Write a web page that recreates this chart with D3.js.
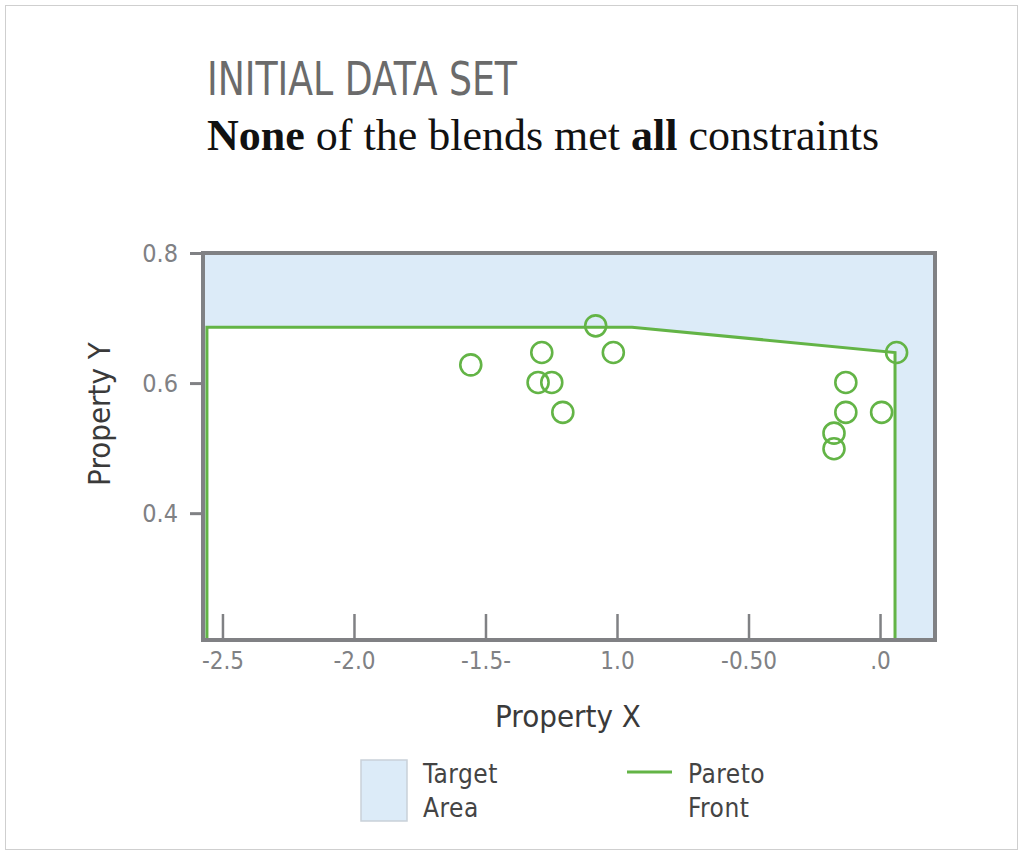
<!DOCTYPE html>
<html>
<head>
<meta charset="utf-8">
<script src="https://cdn.jsdelivr.net/npm/d3@7"></script>
<style>
  html, body { margin: 0; padding: 0; background: #fff; }
</style>
</head>
<body>
<svg id="chart"></svg>
<script>
const WIDTH = 1024;
const HEIGHT = 856;

// data
const pointsX = [-1.556, -1.286, -1.300, -1.248, -1.206, -1.081, -1.014, -0.130, -0.130, 0.006, -0.175, -0.175, 0.063];
const pointsY = [0.628, 0.647, 0.601, 0.601, 0.555, 0.688, 0.647, 0.601, 0.555, 0.555, 0.523, 0.499, 0.647];
const paretoX = [-2.559, -2.559, -0.943, 0.057, 0.057];
const paretoY = [0.205, 0.686, 0.686, 0.647, 0.205];
const xTicks = [-2.5, -2.0, -1.5, -1.0, -0.5, 0];
const xTickLabels = ["-2.5", "-2.0", "-1.5-", "1.0", "-0.50", ".0"];
const yTicks = [0.8, 0.6, 0.4];
const yTickLabels = ["0.8", "0.6", "0.4"];

const X_DOMAIN = [-2.574, 0.209];
const Y_DOMAIN = [0.205, 0.8];

const PLOT = { left: 203, right: 935, top: 253, bottom: 640 };

const GREEN = "#63b446";
const BLUE = "#dcebf8";
const GREY = "#808184";
const SANS = "'DejaVu Sans Condensed', 'DejaVu Sans', sans-serif";

const svg = d3.select("#chart").attr("width", WIDTH).attr("height", HEIGHT);

// outer frame
svg.append("rect")
  .attr("x", 5.5).attr("y", 5.5)
  .attr("width", 1012).attr("height", 844)
  .attr("fill", "#fff")
  .attr("stroke", "#cfcfcf");

// titles
svg.append("text")
  .attr("x", 207).attr("y", 95)
  .style("font-family", SANS)
  .style("font-size", "46px")
  .attr("textLength", 310)
  .attr("lengthAdjust", "spacingAndGlyphs")
  .attr("fill", "#6b6b6b")
  .text("INITIAL DATA SET");

const sub = svg.append("text")
  .attr("x", 207).attr("y", 150)
  .style("font-family", "'Liberation Serif', 'DejaVu Serif', serif")
  .style("font-size", "44px")
  .attr("fill", "#111");
sub.append("tspan").style("font-weight", "bold").text("None");
sub.append("tspan").text(" of the blends met ");
sub.append("tspan").style("font-weight", "bold").text("all");
sub.append("tspan").text(" constraints");

const x = d3.scaleLinear().domain(X_DOMAIN).range([PLOT.left, PLOT.right]);
const y = d3.scaleLinear().domain(Y_DOMAIN).range([PLOT.bottom, PLOT.top]);

// target area: blue over the plot, white below the pareto front
svg.append("rect")
  .attr("x", x(X_DOMAIN[0])).attr("y", y(Y_DOMAIN[1]))
  .attr("width", x(X_DOMAIN[1]) - x(X_DOMAIN[0]))
  .attr("height", y(Y_DOMAIN[0]) - y(Y_DOMAIN[1]))
  .attr("fill", BLUE);

const paretoData = paretoX.map((d, i) => ({ x: d, y: paretoY[i] }));
const lineF = d3.line().x((p) => x(p.x)).y((p) => y(p.y));

svg.append("path")
  .datum(paretoData)
  .attr("d", lineF)
  .attr("fill", "#fff");

svg.append("path")
  .datum(paretoData)
  .attr("d", lineF)
  .attr("fill", "none")
  .attr("stroke", GREEN)
  .attr("stroke-width", 3);

// points
const pts = pointsX.map((d, i) => ({ x: d, y: pointsY[i] }));
svg.append("g")
  .selectAll("circle")
  .data(pts)
  .join("circle")
  .attr("cx", (p) => x(p.x))
  .attr("cy", (p) => y(p.y))
  .attr("r", 10.5)
  .attr("fill", "none")
  .attr("stroke", GREEN)
  .attr("stroke-width", 2.6);

// frame: top and right
svg.append("path")
  .attr("d", `M${PLOT.left},${PLOT.top}H${PLOT.right}V${PLOT.bottom}`)
  .attr("fill", "none")
  .attr("stroke", GREY)
  .attr("stroke-width", 4);

// axes
const axisX = d3.axisBottom(x)
  .tickValues(xTicks)
  .tickFormat((d, i) => xTickLabels[i])
  .tickSize(-26)
  .tickPadding(12);

const gx = svg.append("g")
  .attr("transform", `translate(0, ${PLOT.bottom})`)
  .call(axisX);
gx.select(".domain")
  .attr("d", `M${PLOT.left - 2},0H${PLOT.right + 2}`)
  .attr("stroke", GREY).attr("stroke-width", 4);
gx.selectAll(".tick line").attr("stroke", GREY).attr("stroke-width", 2.5);
gx.selectAll(".tick text")
  .attr("fill", GREY)
  .style("font-family", SANS)
  .style("font-size", "24px");

const axisY = d3.axisLeft(y)
  .tickValues(yTicks)
  .tickFormat((d, i) => yTickLabels[i])
  .tickSize(13)
  .tickPadding(12);

const gy = svg.append("g")
  .attr("transform", `translate(${PLOT.left}, 0)`)
  .call(axisY);
gy.select(".domain")
  .attr("d", `M0,${PLOT.top - 2}V${PLOT.bottom + 2}`)
  .attr("stroke", GREY).attr("stroke-width", 4);
gy.selectAll(".tick line").attr("stroke", GREY).attr("stroke-width", 3);
gy.selectAll(".tick text")
  .attr("fill", GREY)
  .style("font-family", SANS)
  .style("font-size", "25px");

// axis titles
svg.append("text")
  .attr("x", 568).attr("y", 727)
  .attr("text-anchor", "middle")
  .style("font-family", SANS)
  .style("font-size", "31px")
  .attr("fill", "#3a3a3a")
  .text("Property X");

svg.append("text")
  .attr("transform", "translate(110, 414) rotate(-90)")
  .attr("text-anchor", "middle")
  .style("font-family", SANS)
  .style("font-size", "31px")
  .attr("fill", "#3a3a3a")
  .text("Property Y");

// legend
const legend = svg.append("g")
  .style("font-family", SANS)
  .style("font-size", "26px")
  .style("letter-spacing", "0.5px")
  .attr("fill", "#444");

legend.append("rect")
  .attr("x", 361).attr("y", 760)
  .attr("width", 46).attr("height", 61)
  .attr("fill", BLUE)
  .attr("stroke", "#c9d1d9")
  .attr("stroke-width", 1.5);
legend.append("text").attr("x", 423).attr("y", 783).text("Target");
legend.append("text").attr("x", 423).attr("y", 817).text("Area");

legend.append("line")
  .attr("x1", 627).attr("x2", 672)
  .attr("y1", 772).attr("y2", 772)
  .attr("stroke", GREEN)
  .attr("stroke-width", 3);
legend.append("text").attr("x", 688).attr("y", 783).text("Pareto");
legend.append("text").attr("x", 688).attr("y", 817).text("Front");
</script>
</body>
</html>
